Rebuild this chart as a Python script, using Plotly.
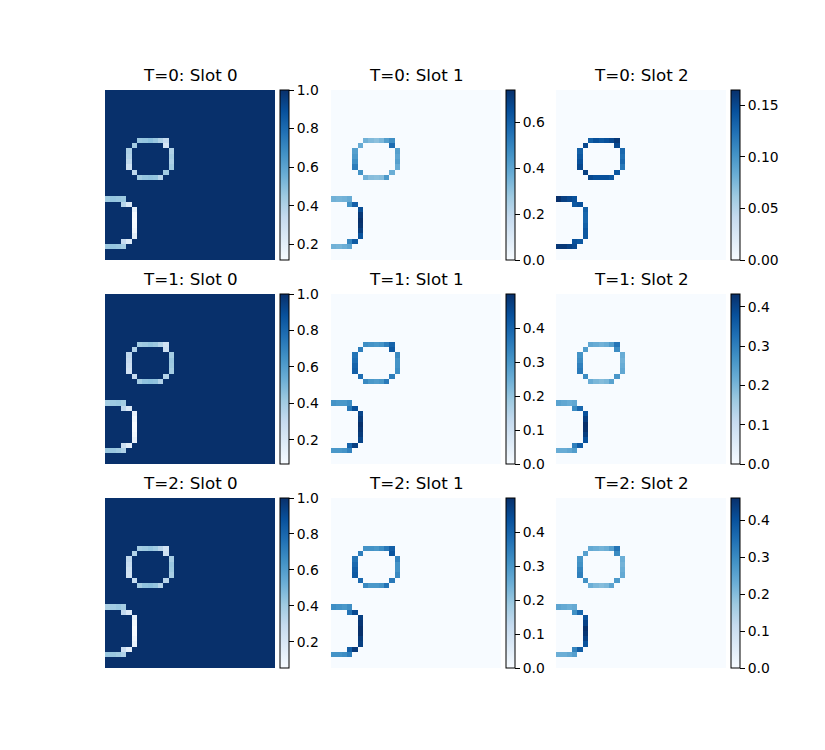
import plotly.graph_objects as go

# ---------------- data ----------------
GRID_SIZE = 32
TIMESTEPS = [0, 1, 2]
SLOTS = [0, 1, 2]

# cells belonging to the two ring-shaped objects (row, col)
UPPER_RING_ROWS = [9, 9, 9, 9, 9, 9, 10, 11, 12, 13, 14, 15, 16, 16, 16, 16, 16, 15, 14, 13, 12, 11, 10]
UPPER_RING_COLS = [6, 7, 8, 9, 10, 11, 11, 12, 12, 12, 12, 11, 10, 9, 8, 7, 6, 5, 4, 4, 4, 4, 5]
LOWER_RING_ROWS = [20, 20, 20, 20, 21, 21, 22, 23, 24, 25, 26, 27, 28, 28, 29, 29, 29, 29]
LOWER_RING_COLS = [0, 1, 2, 3, 3, 4, 5, 5, 5, 5, 5, 5, 4, 3, 3, 2, 1, 0]

# background attention value of each slot
BACKGROUND = [1.0, 0.0, 0.0]

# attention values on the ring cells
T0_S0_UPPER = [0.46, 0.47, 0.49, 0.46, 0.40, 0.34, 0.27, 0.40, 0.43, 0.41, 0.44, 0.44, 0.38, 0.47, 0.48, 0.47, 0.44, 0.36, 0.30, 0.36, 0.39, 0.41, 0.43]
T0_S0_LOWER = [0.45, 0.47, 0.46, 0.45, 0.38, 0.24, 0.19, 0.13, 0.118, 0.125, 0.15, 0.21, 0.23, 0.33, 0.43, 0.46, 0.47, 0.46]
T0_S1_UPPER = [0.36, 0.33, 0.31, 0.34, 0.42, 0.47, 0.57, 0.42, 0.40, 0.42, 0.38, 0.37, 0.44, 0.32, 0.31, 0.32, 0.36, 0.46, 0.52, 0.47, 0.44, 0.42, 0.38]
T0_S1_LOWER = [0.36, 0.35, 0.36, 0.38, 0.46, 0.60, 0.66, 0.72, 0.74, 0.73, 0.70, 0.64, 0.62, 0.50, 0.40, 0.37, 0.35, 0.36]
T0_S2_UPPER = [0.135, 0.145, 0.14, 0.145, 0.15, 0.16, 0.15, 0.13, 0.125, 0.13, 0.12, 0.14, 0.14, 0.145, 0.145, 0.145, 0.15, 0.155, 0.15, 0.145, 0.14, 0.135, 0.15]
T0_S2_LOWER = [0.165, 0.155, 0.15, 0.145, 0.14, 0.145, 0.135, 0.13, 0.13, 0.135, 0.14, 0.14, 0.14, 0.145, 0.15, 0.155, 0.16, 0.16]

T1_S0_UPPER = [0.40, 0.42, 0.44, 0.42, 0.35, 0.25, 0.27, 0.40, 0.43, 0.42, 0.40, 0.35, 0.36, 0.45, 0.46, 0.45, 0.40, 0.30, 0.25, 0.27, 0.30, 0.32, 0.36]
T1_S0_LOWER = [0.40, 0.42, 0.43, 0.40, 0.32, 0.20, 0.14, 0.10, 0.068, 0.075, 0.10, 0.14, 0.16, 0.27, 0.37, 0.41, 0.43, 0.43]
T1_S1_UPPER = [0.32, 0.31, 0.30, 0.31, 0.35, 0.40, 0.42, 0.33, 0.31, 0.31, 0.32, 0.35, 0.36, 0.30, 0.29, 0.30, 0.33, 0.38, 0.41, 0.40, 0.38, 0.37, 0.35]
T1_S1_LOWER = [0.31, 0.30, 0.30, 0.32, 0.36, 0.44, 0.46, 0.48, 0.50, 0.49, 0.48, 0.46, 0.47, 0.40, 0.34, 0.31, 0.30, 0.30]
T1_S2_UPPER = [0.23, 0.22, 0.21, 0.22, 0.25, 0.32, 0.28, 0.22, 0.21, 0.22, 0.23, 0.26, 0.24, 0.20, 0.19, 0.20, 0.22, 0.28, 0.31, 0.30, 0.28, 0.27, 0.25]
T1_S2_LOWER = [0.24, 0.23, 0.22, 0.23, 0.28, 0.34, 0.38, 0.41, 0.433, 0.43, 0.41, 0.38, 0.36, 0.30, 0.25, 0.23, 0.22, 0.22]

T2_S0_UPPER = [0.39, 0.41, 0.43, 0.40, 0.33, 0.23, 0.25, 0.38, 0.42, 0.41, 0.38, 0.33, 0.34, 0.43, 0.45, 0.44, 0.39, 0.28, 0.23, 0.25, 0.28, 0.31, 0.35]
T2_S0_LOWER = [0.38, 0.40, 0.42, 0.39, 0.30, 0.18, 0.13, 0.08, 0.055, 0.06, 0.09, 0.13, 0.14, 0.26, 0.36, 0.40, 0.42, 0.42]
T2_S1_UPPER = [0.31, 0.31, 0.30, 0.32, 0.36, 0.41, 0.43, 0.34, 0.31, 0.31, 0.33, 0.36, 0.37, 0.31, 0.30, 0.30, 0.33, 0.39, 0.42, 0.41, 0.39, 0.37, 0.35]
T2_S1_LOWER = [0.32, 0.31, 0.30, 0.32, 0.37, 0.45, 0.47, 0.49, 0.50, 0.50, 0.48, 0.47, 0.48, 0.41, 0.35, 0.32, 0.31, 0.31]
T2_S2_UPPER = [0.24, 0.23, 0.22, 0.23, 0.26, 0.34, 0.30, 0.23, 0.22, 0.23, 0.24, 0.27, 0.25, 0.21, 0.20, 0.21, 0.23, 0.29, 0.32, 0.31, 0.29, 0.28, 0.26]
T2_S2_LOWER = [0.25, 0.24, 0.23, 0.24, 0.29, 0.36, 0.40, 0.43, 0.46, 0.45, 0.43, 0.40, 0.38, 0.31, 0.26, 0.24, 0.23, 0.23]

UPPER_VALUES = [[T0_S0_UPPER, T0_S1_UPPER, T0_S2_UPPER],
                [T1_S0_UPPER, T1_S1_UPPER, T1_S2_UPPER],
                [T2_S0_UPPER, T2_S1_UPPER, T2_S2_UPPER]]
LOWER_VALUES = [[T0_S0_LOWER, T0_S1_LOWER, T0_S2_LOWER],
                [T1_S0_LOWER, T1_S1_LOWER, T1_S2_LOWER],
                [T2_S0_LOWER, T2_S1_LOWER, T2_S2_LOWER]]

# colorbar ticks
TICKS = [[[0.2, 0.4, 0.6, 0.8, 1.0], [0.0, 0.2, 0.4, 0.6], [0.00, 0.05, 0.10, 0.15]],
         [[0.2, 0.4, 0.6, 0.8, 1.0], [0.0, 0.1, 0.2, 0.3, 0.4], [0.0, 0.1, 0.2, 0.3, 0.4]],
         [[0.2, 0.4, 0.6, 0.8, 1.0], [0.0, 0.1, 0.2, 0.3, 0.4], [0.0, 0.1, 0.2, 0.3, 0.4]]]
TICK_LABELS = [[["0.2", "0.4", "0.6", "0.8", "1.0"], ["0.0", "0.2", "0.4", "0.6"], ["0.00", "0.05", "0.10", "0.15"]],
               [["0.2", "0.4", "0.6", "0.8", "1.0"], ["0.0", "0.1", "0.2", "0.3", "0.4"], ["0.0", "0.1", "0.2", "0.3", "0.4"]],
               [["0.2", "0.4", "0.6", "0.8", "1.0"], ["0.0", "0.1", "0.2", "0.3", "0.4"], ["0.0", "0.1", "0.2", "0.3", "0.4"]]]

# ---------------- style / layout ----------------
W, H = 825, 750
PANEL_LEFT = [105, 331, 556]
PANEL_TOP = [90, 294, 498]
PANEL_SIZE = 170
CBAR_GAP = 5
CBAR_THICK = 9
FONT = "DejaVu Sans"

BLUES = [[0.0, "rgb(247,251,255)"], [0.125, "rgb(222,235,247)"], [0.25, "rgb(198,219,239)"],
         [0.375, "rgb(158,202,225)"], [0.5, "rgb(107,174,214)"], [0.625, "rgb(66,146,198)"],
         [0.75, "rgb(33,113,181)"], [0.875, "rgb(8,81,156)"], [1.0, "rgb(8,48,107)"]]

fig = go.Figure()
annotations = []
layout_axes = {}

for ti, t in enumerate(TIMESTEPS):
    for si, s in enumerate(SLOTS):
        k = ti * 3 + si + 1
        grid = [[BACKGROUND[si]] * GRID_SIZE for _ in range(GRID_SIZE)]
        for r, c, v in zip(UPPER_RING_ROWS, UPPER_RING_COLS, UPPER_VALUES[ti][si]):
            grid[r][c] = v
        for r, c, v in zip(LOWER_RING_ROWS, LOWER_RING_COLS, LOWER_VALUES[ti][si]):
            grid[r][c] = v

        x0 = PANEL_LEFT[si] / W
        x1 = (PANEL_LEFT[si] + PANEL_SIZE) / W
        y1 = 1 - PANEL_TOP[ti] / H
        y0 = 1 - (PANEL_TOP[ti] + PANEL_SIZE) / H

        xa = "x" if k == 1 else f"x{k}"
        ya = "y" if k == 1 else f"y{k}"
        fig.add_trace(go.Heatmap(
            z=grid, xaxis=xa, yaxis=ya, colorscale=BLUES,
            hoverinfo="skip",
            colorbar=dict(
                x=(PANEL_LEFT[si] + PANEL_SIZE + CBAR_GAP) / W, xanchor="left",
                y=y1, yanchor="top", len=PANEL_SIZE / H, lenmode="fraction",
                thickness=CBAR_THICK, thicknessmode="pixels",
                xpad=0, ypad=0,
                outlinewidth=1, outlinecolor="black",
                ticks="outside", ticklen=5, tickwidth=1, tickcolor="black",
                tickvals=TICKS[ti][si], ticktext=TICK_LABELS[ti][si],
                tickfont=dict(family=FONT, size=13.9, color="black"),
            ),
        ))
        axkey = "" if k == 1 else str(k)
        layout_axes[f"xaxis{axkey}"] = dict(domain=[x0, x1], range=[-0.5, GRID_SIZE - 0.5],
                                            visible=False, anchor=ya, fixedrange=True)
        layout_axes[f"yaxis{axkey}"] = dict(domain=[y0, y1], range=[GRID_SIZE - 0.5, -0.5],
                                            visible=False, anchor=xa, fixedrange=True)
        annotations.append(dict(
            text=f"T={t}: Slot {s}", xref="paper", yref="paper",
            x=(x0 + x1) / 2, y=1 - (PANEL_TOP[ti] - 15) / H,
            xanchor="center", yanchor="middle", showarrow=False,
            font=dict(family=FONT, size=16.7, color="black"),
        ))

fig.update_layout(
    width=W, height=H, margin=dict(l=0, r=0, t=0, b=0),
    paper_bgcolor="white", plot_bgcolor="white",
    annotations=annotations, showlegend=False,
    **layout_axes,
)

fig.write_html("out.html")
